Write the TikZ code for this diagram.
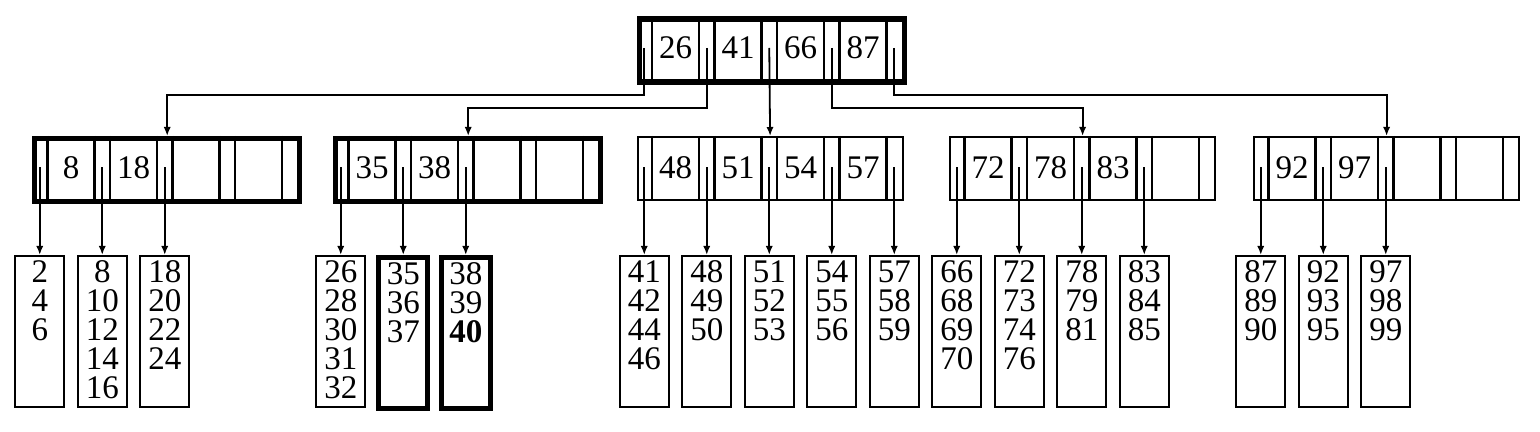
\documentclass[tikz,border=0pt]{standalone}
\usepackage{fontspec}
\setmainfont{Liberation Serif}
\usetikzlibrary{arrows.meta}
\tikzset{
  x=0.5pt, y=-0.5pt,
  bbox/.style={draw, line width=1.1pt, minimum width=132.5pt, minimum height=31.5pt, inner sep=0pt},
  heavy/.style={line width=2.7pt},
  sepline/.style={line width=1.1pt},
  keytext/.style={inner sep=0pt, font=\fontsize{16.5}{14.5}\selectfont},
  leafbox/.style={draw, line width=1.1pt, inner sep=0pt, minimum width=24.5pt, font=\fontsize{16.5}{14.5}\selectfont},
  conn/.style={line width=0.9pt, -{Latex[length=4.5pt,width=3.6pt]}},
  link/.style={line width=0.9pt}
}
% #1 name, #2 left, #3 top, #4 style, #5 keys
\newcommand\bnode[5]{%
  \foreach \j in {0,...,3}{
    \draw[sepline] ({#2+15.5+62.5*\j},#3) -- ({#2+15.5+62.5*\j},{#3+63});
    \draw[sepline] ({#2+62.5+62.5*\j},#3) -- ({#2+62.5+62.5*\j},{#3+63});
  }
  \node[bbox,#4,anchor=north west] (#1) at (#2,#3) {};
  \foreach \k [count=\j from 0] in {#5}{
    \node[keytext] (#1-k\j) at ({#2+39+62.5*\j},{#3+31.5}) {\k};
  }
  \foreach \j in {0,...,4}{
    \coordinate (#1-p\j) at ({#2+7.75+62.5*\j},{#3+31.5});
  }
}
% #1 name, #2 pointer coordinate, #3 style, #4 content
\newcommand\leafnode[4]{%
  \node[leafbox,#3,anchor=north] (#1) at (#2 |- leafrow) {\parbox[c][75.5pt][t]{24pt}{\centering\rule{0pt}{13.3pt}#4}};
  \draw[conn] (#2) -- (#1.north);
}
\begin{document}
\begin{tikzpicture}
\useasboundingbox (0,0) rectangle (1540,432);
\coordinate (leafrow) at (0,255);
\coordinate (y95) at (0,95);
\coordinate (y108) at (0,108);

\bnode{R}{636.5}{16.5}{heavy}{26,41,66,87}
\bnode{A}{32}{136}{heavy}{8,18}
\bnode{B}{333}{136}{heavy}{35,38}
\bnode{C}{636.5}{136}{}{48,51,54,57}
\bnode{D}{949}{136}{}{72,78,83}
\bnode{E}{1253}{136}{}{92,97}

\draw[conn] (R-p0) -- (R-p0 |- y95) -| (A.north);
\draw[conn] (R-p1) -- (R-p1 |- y108) -| (B.north);
\draw[conn] (R-p2) -- (C.north);
\draw[conn] (R-p3) -- (R-p3 |- y108) -| (D.north);
\draw[conn] (R-p4) -- (R-p4 |- y95) -| (E.north);

\leafnode{la0}{A-p0}{}{2\\4\\6}
\leafnode{la1}{A-p1}{}{8\\10\\12\\14\\16}
\leafnode{la2}{A-p2}{}{18\\20\\22\\24}

\leafnode{lb0}{B-p0}{}{26\\28\\30\\31\\32}
\leafnode{lb1}{B-p1}{heavy}{35\\36\\37}
\leafnode{lb2}{B-p2}{heavy}{38\\39\\\textbf{40}}

\leafnode{lc0}{C-p0}{}{41\\42\\44\\46}
\leafnode{lc1}{C-p1}{}{48\\49\\50}
\leafnode{lc2}{C-p2}{}{51\\52\\53}
\leafnode{lc3}{C-p3}{}{54\\55\\56}
\leafnode{lc4}{C-p4}{}{57\\58\\59}

\leafnode{ld0}{D-p0}{}{66\\68\\69\\70}
\leafnode{ld1}{D-p1}{}{72\\73\\74\\76}
\leafnode{ld2}{D-p2}{}{78\\79\\81}
\leafnode{ld3}{D-p3}{}{83\\84\\85}

\leafnode{le0}{E-p0}{}{87\\89\\90}
\leafnode{le1}{E-p1}{}{92\\93\\95}
\leafnode{le2}{E-p2}{}{97\\98\\99}
\end{tikzpicture}
\end{document}
